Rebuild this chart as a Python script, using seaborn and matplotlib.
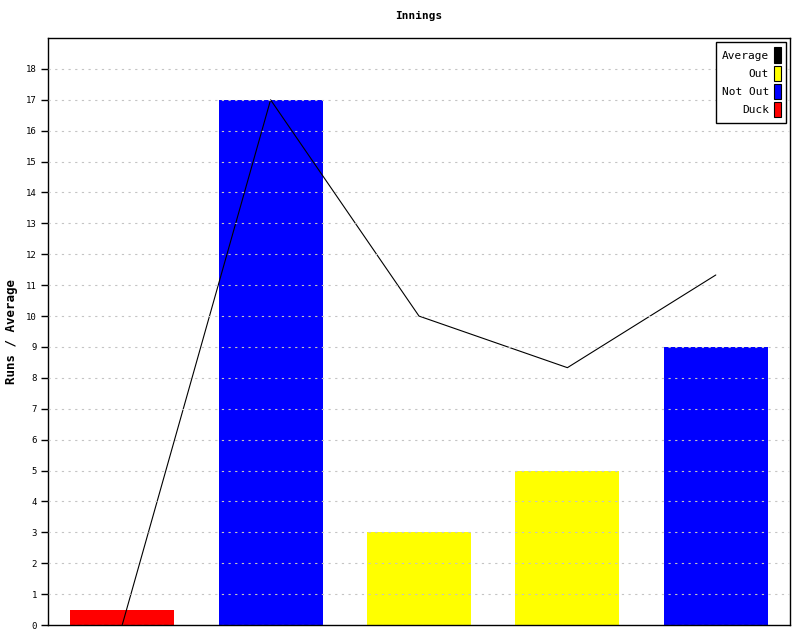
import numpy as np
import pandas as pd
import matplotlib
matplotlib.use("Agg")
import matplotlib.pyplot as plt
from matplotlib.patches import Patch
import seaborn as sns

# Innings data
innings = ["1", "2", "3", "4", "5"]
runs = [0.5, 17, 3, 5, 9]
result = ["Duck", "Not Out", "Out", "Out", "Not Out"]
average = [0, 17, 10, 8.33, 11.33]

result_colors = {"Average": "#000000", "Out": "#ffff00", "Not Out": "#0000ff", "Duck": "#ff0000"}

sns.set_style("white")
plt.rcParams['font.family'] = ['DejaVu Sans Mono']
plt.rcParams['text.color'] = 'black'

df = pd.DataFrame({"innings": innings, "runs": runs, "result": result})

fig = plt.figure(figsize=(8, 6.4), dpi=100)
ax = fig.add_axes([0.06, 0.0234, 0.9275, 0.9172])

sns.barplot(data=df, x="innings", y="runs", hue="result", palette=result_colors,
            dodge=False, width=0.7, saturation=1, legend=False, linewidth=0, ax=ax)
sns.lineplot(x=np.arange(len(average)), y=average, color="black", linewidth=0.8, ax=ax)

ax.set_xlim(-0.5, len(innings) - 0.5)
ax.set_ylim(0, 19)
ax.set_yticks(range(0, 19))
ax.set_xticks([])
ax.set_xlabel("")
ax.tick_params(axis="y", direction="out", length=5, width=1, labelsize=6.5, left=True,
               colors="black", pad=3)

ax.set_axisbelow(False)
ax.yaxis.grid(True, linestyle=(0, (2, 4)), color="#c4c4c4", linewidth=0.8)
for s in ax.spines.values():
    s.set_color("black")
    s.set_linewidth(1)

ax.set_title("Innings", fontsize=8, fontweight="bold", pad=14, color="black")
ax.set_ylabel("Runs / Average", fontsize=9, fontweight="bold", labelpad=6, color="black")

handles = [Patch(facecolor=c, edgecolor="black", linewidth=0.8) for c in result_colors.values()]
leg = ax.legend(handles, list(result_colors.keys()), loc="upper right", markerfirst=False,
                fontsize=8, handlelength=0.55, handleheight=1.75, handletextpad=0.5,
                labelspacing=0.25, borderpad=0.5, fancybox=False, framealpha=1,
                edgecolor="black", borderaxespad=0.35)
leg.get_frame().set_linewidth(1)
for t in leg.get_texts():
    t.set_ha("right")
    t.set_color("black")

fig.savefig("out.png", dpi=100)
